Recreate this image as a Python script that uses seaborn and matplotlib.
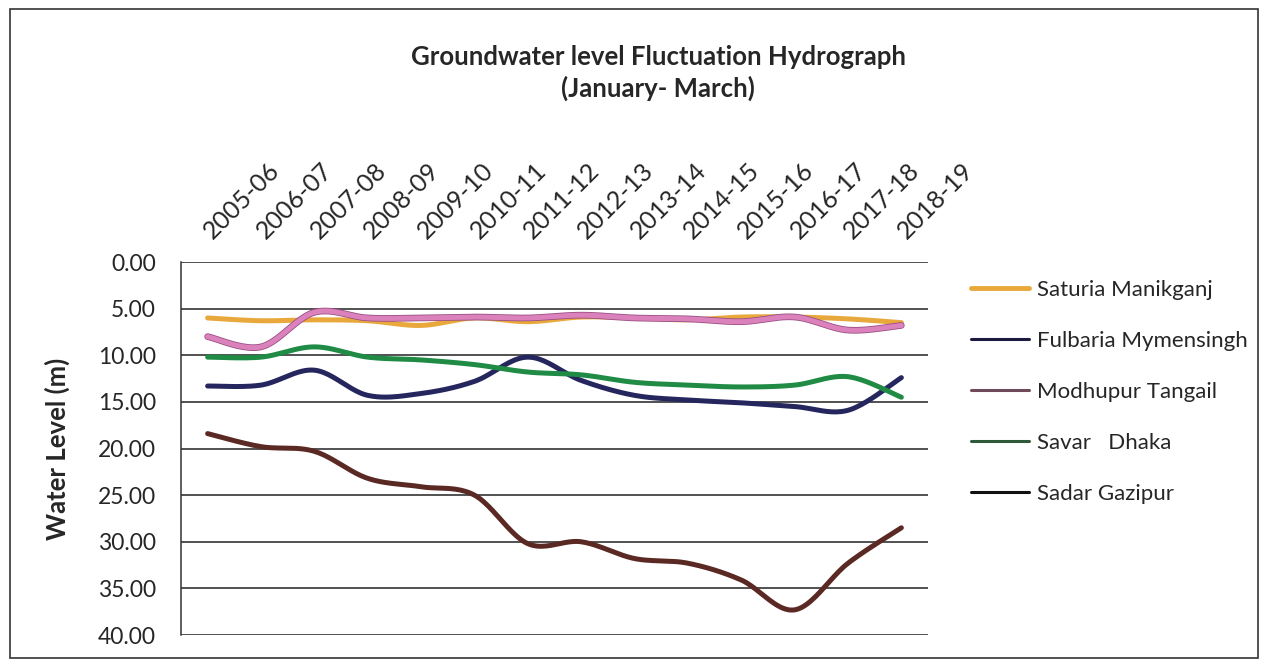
import numpy as np
import pandas as pd
import matplotlib
matplotlib.use("Agg")
import matplotlib.pyplot as plt
import matplotlib.patheffects as pe
from matplotlib.lines import Line2D
from matplotlib.patches import Rectangle
import seaborn as sns

years = ["2005-06", "2006-07", "2007-08", "2008-09", "2009-10", "2010-11", "2011-12",
         "2012-13", "2013-14", "2014-15", "2015-16", "2016-17", "2017-18", "2018-19"]

saturia = [6.0, 6.3, 6.2, 6.3, 6.8, 6.0, 6.4, 5.9, 6.0, 6.2, 5.9, 5.9, 6.1, 6.5]
fulbaria = [13.3, 13.2, 11.6, 14.3, 14.1, 12.8, 10.2, 12.7, 14.3, 14.8, 15.1, 15.5, 15.9, 12.4]
modhupur = [8.0, 9.1, 5.4, 6.0, 6.0, 5.9, 6.0, 5.7, 6.0, 6.1, 6.4, 5.9, 7.3, 6.8]
savar = [10.2, 10.2, 9.1, 10.2, 10.5, 11.0, 11.8, 12.1, 12.9, 13.2, 13.4, 13.2, 12.3, 14.5]
sadar = [18.4, 19.8, 20.3, 23.2, 24.1, 25.0, 30.2, 30.0, 31.8, 32.3, 34.1, 37.3, 32.3, 28.5]

series_names = ["Saturia Manikganj", "Fulbaria Mymensingh", "Modhupur Tangail", "Savar   Dhaka", "Sadar Gazipur"]
series_vals = [saturia, fulbaria, modhupur, savar, sadar]
colors = ["#E9A83C", "#25265E", "#DB82BC", "#1F8B45", "#5B2923"]
legend_colors = ["#E9A83C", "#1B1B40", "#6E4A5A", "#2E5A3A", "#111111"]


def smooth(vals, n=24):
    # Excel-style smoothed line: cubic Bezier between data points
    p = np.column_stack([np.arange(len(vals), dtype=float), np.asarray(vals, float)])
    ext = np.vstack([p[0], p, p[-1]])
    t = np.linspace(0, 1, n)[:, None]
    out = []
    for i in range(1, len(ext) - 2):
        p0, p3 = ext[i], ext[i + 1]
        c1 = p0 + (ext[i + 1] - ext[i - 1]) / 6.0
        c2 = p3 - (ext[i + 2] - ext[i]) / 6.0
        seg = (1 - t) ** 3 * p0 + 3 * (1 - t) ** 2 * t * c1 + 3 * (1 - t) * t ** 2 * c2 + t ** 3 * p3
        out.append(seg if i == 1 else seg[1:])
    return np.vstack(out)


sns.set_theme(style="white")
plt.rcParams["font.family"] = ["Lato", "DejaVu Sans"]

fig = plt.figure(figsize=(12.68, 6.66), dpi=100)
ax = fig.add_axes([0.1427, 0.0465, 0.5892, 0.5601])

for name, vals, col in zip(series_names, series_vals, colors):
    sm = smooth(vals)
    df = pd.DataFrame({"x": sm[:, 0], "y": sm[:, 1]})
    kw = {}
    if name.startswith("Modhupur"):
        kw["path_effects"] = [pe.Stroke(linewidth=4.8, foreground="#9A4F84"), pe.Normal()]
    sns.lineplot(data=df, x="x", y="y", sort=False, color=col, linewidth=3.6, ax=ax,
                 legend=False, solid_capstyle="round", **kw)

ax.set_xlim(-0.5, 13.5)
ax.set_ylim(40, 0)
ax.set_yticks(np.arange(0, 41, 5))
ax.set_yticklabels([f"{v:.2f}" for v in np.arange(0, 41, 5)], fontsize=16.5)
ax.xaxis.tick_top()
ax.set_xticks(range(len(years)))
ax.set_xticklabels(years, rotation=45, ha="left", va="center", rotation_mode="anchor", fontsize=18)
ax.tick_params(axis="x", length=0, pad=20)
ax.tick_params(axis="y", length=0, pad=18)
ax.set_xlabel("")
ax.set_ylabel("Water Level (m)", fontsize=18.5, fontweight="bold", labelpad=20)
ax.grid(axis="y", color="#222222", linewidth=1.1)
ax.grid(axis="x", visible=False)
for s in ["top", "right", "bottom"]:
    ax.spines[s].set_visible(False)
ax.spines["left"].set_color("#333333")
ax.spines["left"].set_linewidth(1.1)

handles = [Line2D([0], [0], color=c, linewidth=(3.5 if i == 0 else 2.2)) for i, c in enumerate(legend_colors)]
fig.legend(handles, series_names, loc="upper left", bbox_to_anchor=(0.75, 0.61), frameon=False,
           fontsize=16, handlelength=2.6, handletextpad=0.35, labelspacing=1.4)

fig.text(0.519, 0.915, "Groundwater level Fluctuation Hydrograph", ha="center", va="center",
         fontsize=18.5, fontweight="bold")
fig.text(0.519, 0.868, "(January- March)", ha="center", va="center", fontsize=18.5, fontweight="bold")

fig.patches.append(Rectangle((0.008, 0.012), 0.984, 0.975, transform=fig.transFigure,
                             fill=False, edgecolor="#333333", linewidth=1.2))

fig.savefig("out.png", dpi=100)
